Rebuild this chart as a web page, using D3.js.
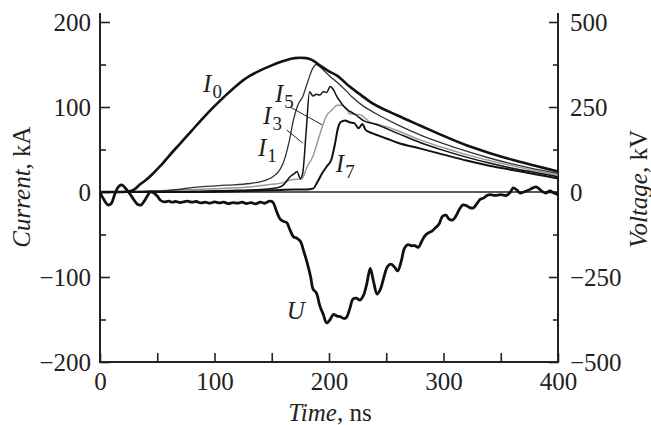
<!DOCTYPE html>
<html>
<head>
<meta charset="utf-8">
<script src="https://cdn.jsdelivr.net/npm/d3@7"></script>
<style>
  html, body { margin: 0; padding: 0; background: #fff; }
  svg text { font-family: "Liberation Serif", "Times New Roman", serif; fill: #222; }
</style>
</head>
<body>
<div id="chart"></div>
<script>
(function(d3) {

  'use strict';

  // ---- data ----
  var tI0 = [0, 20, 25, 30, 35, 40, 45, 50, 55, 60, 70, 80, 90, 100, 110, 120, 130, 140, 150, 160, 166, 170, 175, 180, 185, 192, 200, 207, 218, 228, 236, 260, 280, 300, 320, 340, 360, 380, 400];
  var I0  = [0, 0, 0.5, 3, 9, 14, 20, 27, 34, 42, 57, 72, 87, 101, 114, 126, 136, 143, 149, 154, 156.5, 157.5, 158, 157.5, 155.5, 149, 142, 137, 124, 114, 106, 90, 78, 66, 55, 46, 38, 31, 24];

  var tI1 = [0, 20, 40, 60, 87, 110, 131, 145, 151, 157, 160, 165, 169, 173, 177, 181, 186, 189, 194, 200, 207, 215, 220, 230, 240, 260, 280, 300, 320, 340, 360, 380, 400];
  var I1  = [0, 0, 1, 2, 6, 8, 10, 14, 18, 26, 34, 58, 85, 103, 112, 128, 146, 150, 145, 137, 129, 119, 112, 101, 93, 79, 67, 57, 48, 40, 33, 27, 22];

  var tI3 = [0, 40, 80, 120, 140, 155, 160, 166, 170, 172, 175, 177, 180, 183, 186, 189, 192, 195, 198, 201, 204, 207, 210, 214, 218, 222, 226, 230, 240, 260, 280, 300, 320, 340, 360, 380, 400];
  var I3  = [0, 0, 1, 2, 3, 5, 8, 18, 22, 24, 16, 22, 70, 118, 113, 115, 114, 118, 117, 124, 120, 112, 106, 99, 95, 92, 88, 84, 80, 69, 58, 49, 41, 34, 28, 23, 18];

  var tI5 = [0, 40, 80, 120, 131, 150, 160, 166, 172, 176, 181, 186, 192, 198, 203, 207, 210, 215, 218, 227, 236, 245, 260, 280, 300, 320, 340, 360, 380, 400];
  var I5  = [0, 1, 3, 5, 6, 9, 11, 14, 15, 15, 30, 42, 68, 90, 97, 102, 102, 99, 92, 91, 82, 79, 72, 61, 52, 44, 37, 31, 25, 20];

  var tI7 = [0, 40, 80, 120, 150, 170, 180, 186, 190, 194, 198, 202, 205, 208, 210, 214, 218, 222, 226, 229, 232, 236, 240, 250, 260, 280, 300, 320, 340, 360, 380, 400];
  var I7  = [0, 0, 0, 1, 2, 3, 3, 4, 12, 22, 30, 38, 55, 76, 82, 84, 82, 81, 75, 80, 73, 70, 68, 63, 58, 51, 44, 37, 31, 26, 21, 16];

  var tU = [0, 3, 7, 10, 13, 16, 19, 22, 26, 30, 33, 36, 39, 42, 44, 47, 50, 53, 56, 60, 63, 66, 70, 73, 76, 80, 84, 88, 92, 96, 100, 104, 108, 112, 116, 120, 124, 128, 132, 136, 140, 144, 148, 151, 154, 157, 160, 163, 166, 169, 172, 175, 178, 181, 184, 186, 189, 192, 195, 198, 201, 204, 207, 210, 213, 215, 218, 221, 224, 227, 230, 233, 236, 239, 242, 245, 248, 251, 254, 257, 260, 263, 266, 269, 272, 275, 278, 281, 284, 287, 290, 293, 296, 299, 302, 305, 308, 311, 314, 317, 320, 323, 326, 329, 332, 335, 338, 341, 345, 350, 355, 358, 361, 364, 367, 370, 374, 378, 381, 385, 389, 393, 396, 400];
  var U  = [-2, -20, -38, -33, -5, 15, 21, 12, -5, -25, -37, -38, -25, -8, 0, -3, -12, -25, -29, -27, -30, -28, -31, -29, -27, -30, -28, -32, -30, -33, -29, -32, -30, -34, -31, -33, -30, -34, -31, -35, -30, -33, -27, -30, -55, -78, -86, -90, -112, -132, -136, -145, -175, -209, -250, -285, -297, -335, -360, -385, -375, -360, -365, -367, -372, -370, -345, -315, -312, -318, -305, -270, -225, -265, -300, -285, -250, -220, -212, -220, -232, -205, -165, -155, -158, -158, -163, -145, -128, -120, -115, -105, -95, -72, -68, -80, -82, -70, -50, -38, -40, -46, -47, -35, -22, -18, -10, -8, -10, -8, -10, -2, 12, 6, -3, 0, 5, 12, 15, 5, -3, 3, -2, -8];

  var currentTicks = [-200, -100, 0, 100, 200];
  var currentMinor = [-150, -50, 50, 150];
  var voltageTicks = [-500, -250, 0, 250, 500];
  var voltageMinor = [-375, -125, 125, 375];
  var timeTicks = [0, 100, 200, 300, 400];
  var timeMinor = [50, 150, 250, 350];

  // curve labels, in data units (time, current)
  var labels = [
    { name: 'I', sub: '0', t: 90, v: 117.6 },
    { name: 'I', sub: '5', t: 152.8, v: 106 },
    { name: 'I', sub: '3', t: 142.4, v: 80 },
    { name: 'I', sub: '1', t: 138, v: 42.4 },
    { name: 'I', sub: '7', t: 206, v: 23.5 },
    { name: 'U', sub: '', t: 163, v: -149.4 }
  ];
  var leaders = [
    { t1: 166, v1: 100, t2: 194, v2: 79 },
    { t1: 163, v1: 73, t2: 177, v2: 57.6 }
  ];

  // ---- drawing ----
  var W = 651, H = 425;
  var svg = d3.select('#chart').append('svg')
    .attr('width', W).attr('height', H);

  var x = d3.scaleLinear().domain([0, 400]).range([100, 558]);
  var yI = d3.scaleLinear().domain([-200, 200]).range([362, 22]);
  var yU = d3.scaleLinear().domain([-500, 500]).range([362, 22]);

  var fs = 25;
  var fmt = function(d) { return d3.format('d')(d); };

  function styleAxis(g) {
    g.select('.domain').remove();
    g.selectAll('.tick line').attr('stroke', '#222').attr('stroke-width', 1.6);
    g.selectAll('.tick text').attr('font-size', fs).attr('font-family', '"Liberation Serif", serif').attr('fill', '#222');
  }

  // left axis
  svg.append('g').attr('transform', 'translate(' + x(0) + ',0)')
    .call(d3.axisLeft(yI).tickValues(currentTicks).tickFormat(fmt).tickSizeInner(-10).tickSizeOuter(0).tickPadding(9))
    .call(styleAxis);
  svg.append('g').attr('transform', 'translate(' + x(0) + ',0)')
    .call(d3.axisLeft(yI).tickValues(currentMinor).tickFormat('').tickSizeInner(-6).tickSizeOuter(0))
    .call(styleAxis);

  // right axis
  svg.append('g').attr('transform', 'translate(' + x(400) + ',0)')
    .call(d3.axisRight(yU).tickValues(voltageTicks).tickFormat(fmt).tickSizeInner(-9).tickSizeOuter(0).tickPadding(12))
    .call(styleAxis);
  svg.append('g').attr('transform', 'translate(' + x(400) + ',0)')
    .call(d3.axisRight(yU).tickValues(voltageMinor).tickFormat('').tickSizeInner(-5).tickSizeOuter(0))
    .call(styleAxis);

  // bottom axis
  svg.append('g').attr('transform', 'translate(0,' + yI(-200) + ')')
    .call(d3.axisBottom(x).tickValues(timeTicks).tickFormat(fmt).tickSizeInner(-9).tickSizeOuter(0).tickPadding(10))
    .call(styleAxis);
  svg.append('g').attr('transform', 'translate(0,' + yI(-200) + ')')
    .call(d3.axisBottom(x).tickValues(timeMinor).tickFormat('').tickSizeInner(-9).tickSizeOuter(0))
    .call(styleAxis);

  // axis frame lines
  var top = yI(200) - 9;
  svg.append('path')
    .attr('d', 'M' + x(0) + ',' + top + 'V' + yI(-200) + 'H' + x(400) + 'V' + top)
    .attr('fill', 'none').attr('stroke', '#222').attr('stroke-width', 2);

  // zero line
  svg.append('line')
    .attr('x1', x(0)).attr('x2', x(400)).attr('y1', yI(0)).attr('y2', yI(0))
    .attr('stroke', '#222').attr('stroke-width', 1.3);

  function series(ts, vs) {
    return ts.map(function(t, i) { return [t, vs[i]]; });
  }

  var lineI = d3.line().x(function(d) { return x(d[0]); }).y(function(d) { return yI(d[1]); })
    .curve(d3.curveMonotoneX);
  var lineU = d3.line().x(function(d) { return x(d[0]); }).y(function(d) { return yU(d[1]); })
    .curve(d3.curveCatmullRom.alpha(0.5));

  var curves = [
    { d: series(tI5, I5), color: '#999', width: 1.5 },
    { d: series(tI1, I1), color: '#333', width: 1.3 },
    { d: series(tI3, I3), color: '#111', width: 1.5 },
    { d: series(tI7, I7), color: '#111', width: 2 },
    { d: series(tI0, I0), color: '#111', width: 2.6 }
  ];
  curves.forEach(function(c) {
    svg.append('path')
      .attr('d', lineI(c.d))
      .attr('fill', 'none')
      .attr('stroke', c.color)
      .attr('stroke-width', c.width)
      .attr('stroke-linejoin', 'round');
  });

  svg.append('path')
    .attr('d', lineU(series(tU, U)))
    .attr('fill', 'none')
    .attr('stroke', '#111')
    .attr('stroke-width', 2.8)
    .attr('stroke-linejoin', 'round');

  // leader lines
  svg.selectAll('line.leader').data(leaders).enter().append('line')
    .attr('class', 'leader')
    .attr('x1', function(d) { return x(d.t1); }).attr('y1', function(d) { return yI(d.v1); })
    .attr('x2', function(d) { return x(d.t2); }).attr('y2', function(d) { return yI(d.v2); })
    .attr('stroke', '#222').attr('stroke-width', 1);

  // curve labels
  labels.forEach(function(l) {
    var t = svg.append('text')
      .attr('x', x(l.t)).attr('y', yI(l.v))
      .attr('font-size', fs);
    t.append('tspan').attr('font-style', 'italic').text(l.name);
    if (l.sub) {
      t.append('tspan').attr('font-size', 19).attr('dy', 6).attr('dx', 1).text(l.sub);
    }
  });

  // axis titles
  var tl = svg.append('text')
    .attr('transform', 'translate(30,187) rotate(-90)')
    .attr('text-anchor', 'middle').attr('font-size', fs);
  tl.append('tspan').attr('font-style', 'italic').text('Current');
  tl.append('tspan').text(', kA');

  var tr = svg.append('text')
    .attr('transform', 'translate(647,189) rotate(-90)')
    .attr('text-anchor', 'middle').attr('font-size', fs);
  tr.append('tspan').attr('font-style', 'italic').text('Voltage');
  tr.append('tspan').text(', kV');

  var tb = svg.append('text')
    .attr('x', 330).attr('y', 421)
    .attr('text-anchor', 'middle').attr('font-size', fs);
  tb.append('tspan').attr('font-style', 'italic').text('Time');
  tb.append('tspan').text(', ns');

})(d3);
</script>
</body>
</html>
